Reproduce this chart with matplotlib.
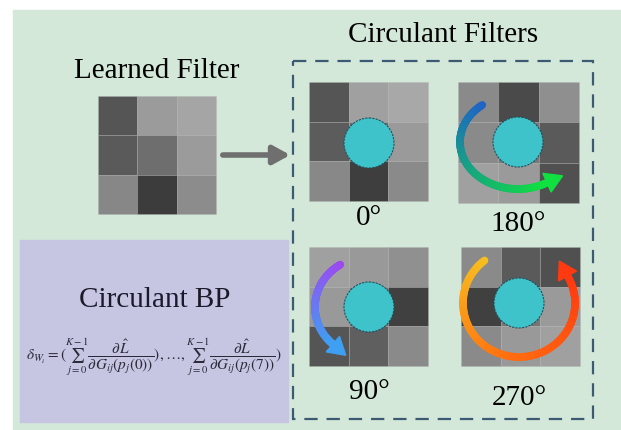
import matplotlib
matplotlib.use('Agg')
import matplotlib.pyplot as plt
import numpy as np
from matplotlib.collections import LineCollection
from matplotlib.colors import LinearSegmentedColormap
from matplotlib.patches import Rectangle, Circle, Polygon

plt.rcParams['mathtext.fontset'] = 'stix'

# gray levels of the 3x3 filters (0 = black, 255 = white), row by row
learned = [[85, 155, 165], [90, 110, 155], [135, 60, 140]]
rot_0 = [[85, 160, 168], [92, 112, 154], [136, 62, 138]]
rot_180 = [[138, 74, 143], [138, 120, 90], [160, 154, 80]]
rot_90 = [[160, 153, 144], [153, 118, 64], [85, 95, 138]]
rot_270 = [[138, 90, 80], [64, 118, 154], [138, 153, 160]]
angle_labels = ['0°', '180°', '90°', '270°']

GREEN = '#d3e8d9'
PURPLE = '#c6c5e2'
DASH = '#3d5a74'
CYAN = '#3fc3cb'
SERIF = 'Liberation Serif'

fig = plt.figure(figsize=(6.21, 4.30), dpi=100)
ax = fig.add_axes([0, 0, 1, 1])
ax.set_xlim(0, 621)
ax.set_ylim(430, 0)
ax.axis('off')

ax.add_patch(Rectangle((13, 10), 608, 420, color=GREEN, zorder=0))
ax.add_patch(Rectangle((20, 240), 268, 182, color=PURPLE, zorder=1))
ax.add_patch(Rectangle((293, 61), 300, 358, fill=False, ec=DASH, lw=1.6,
                       ls=(0, (6, 4)), zorder=2))


def grid(x0, y0, size, vals):
    c = size / 3
    for r in range(3):
        for k in range(3):
            g = vals[r][k] / 255
            ax.add_patch(Rectangle((x0 + k * c, y0 + r * c), c, c,
                                   fc=(g, g, g), ec=(0.7, 0.7, 0.7, 0.35),
                                   lw=0.6, zorder=3))


def disk(cx, cy):
    ax.add_patch(Circle((cx, cy), 25, fc=CYAN, ec='#24505a', lw=0.8,
                        ls=(0, (2, 1)), zorder=5))


def arc_arrow(cx, cy, rx, ry, t0, t1, colors, head=17):
    cmap = LinearSegmentedColormap.from_list('a', colors)
    t = np.radians(np.linspace(t0, t1, 120))
    x = cx + rx * np.cos(t)
    y = cy - ry * np.sin(t)
    pts = np.column_stack([x, y]).reshape(-1, 1, 2)
    segs = np.concatenate([pts[:-1], pts[1:]], axis=1)
    lc = LineCollection(segs, cmap=cmap, lw=5.5, capstyle='round', zorder=6)
    lc.set_array(np.linspace(0, 1, len(segs)))
    ax.add_collection(lc)
    d = np.array([x[-1] - x[-3], y[-1] - y[-3]])
    d /= np.hypot(*d)
    n = np.array([-d[1], d[0]])
    base = np.array([x[-1], y[-1]])
    tip = base + d * head
    ax.add_patch(Polygon([tip, base + n * head * 0.6, base - n * head * 0.6],
                         color=cmap(1.0), zorder=6))


grid(98, 96, 118, learned)
ax.annotate('', xy=(293, 155), xytext=(220, 155),
            arrowprops=dict(arrowstyle='-|>,head_length=1.0,head_width=0.55',
                            color='#6f6f6f', lw=4), zorder=4)

grid(309, 82, 119, rot_0)
disk(369, 143)
grid(458, 82, 121, rot_180)
disk(518, 142)
arc_arrow(518, 142, 58, 47, 128, 300, ['#1f63c8', '#10e040'])
grid(309, 247, 119, rot_90)
disk(369, 307)
arc_arrow(369, 307, 54, 50, 122, 228, ['#a048f0', '#3f9ff2'])
grid(461, 247, 119, rot_270)
disk(519, 303)
arc_arrow(519, 303, 56, 54, 128, 390, ['#f6c020', '#ff7010', '#ff3a10'])

for (x, y), s in zip([(369, 218), (518, 224), (369, 392), (519, 398)], angle_labels):
    ax.text(x, y, s, ha='center', va='center', fontsize=21,
            family=SERIF, zorder=7)

ax.text(157, 71, 'Learned Filter', ha='center', va='center', fontsize=21,
        family=SERIF)
ax.text(443, 35, 'Circulant Filters', ha='center', va='center', fontsize=21,
        family=SERIF)
ax.text(155, 300, 'Circulant BP', ha='center', va='center', fontsize=21,
        family=SERIF, color='#1a1a2a')
ax.text(154, 357,
        r'$\delta_{W_i}=(\sum_{j=0}^{K-1}\dfrac{\partial\hat{L}}{\partial G_{ij}(p_j(0))}),\ldots,\sum_{j=0}^{K-1}\dfrac{\partial\hat{L}}{\partial G_{ij}(p_j(7))})$',
        ha='center', va='center', fontsize=11, color='#2a2a3a')

fig.savefig('out.png', dpi=100, facecolor='white')
